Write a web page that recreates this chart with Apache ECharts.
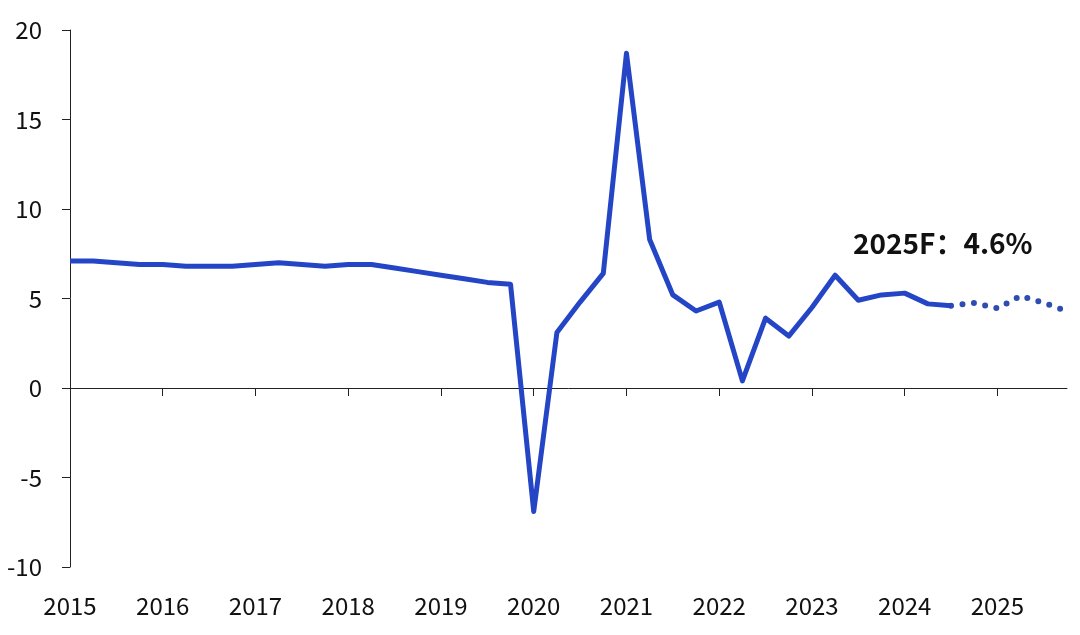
<!DOCTYPE html>
<html><head><meta charset="utf-8">
<script src="https://cdn.jsdelivr.net/npm/echarts@6/dist/echarts.min.js"></script>
<style>html,body{margin:0;padding:0;background:#fff}#c{width:1080px;height:635px}</style>
</head><body><div id="c"></div>
<script>
const years = ['2015','2016','2017','2018','2019','2020','2021','2022','2023','2024','2025'];
const quarters = ['Q1','Q2','Q3','Q4'];
const categories = [];
years.forEach(y => quarters.forEach(q => categories.push(y + q)));
// Actual quarterly values (2015Q1 .. 2024Q3)
const actual = [
  7.1, 7.1, 7.0, 6.9,
  6.9, 6.8, 6.8, 6.8,
  6.9, 7.0, 6.9, 6.8,
  6.9, 6.9, 6.7, 6.5,
  6.3, 6.1, 5.9, 5.8,
  -6.9, 3.1, 4.8, 6.4,
  18.7, 8.3, 5.2, 4.3,
  4.8, 0.4, 3.9, 2.9,
  4.5, 6.3, 4.9, 5.2,
  5.3, 4.7, 4.6
];
// Forecast values (2024Q3 .. 2025Q4)
const forecast = [4.6, 4.75, 4.45, 5.15, 4.75, 4.3];
const yTicks = {min: -10, max: 20, interval: 5};
const annotation = '2025F：4.6%';

const solidData = categories.map((c, i) => i < actual.length ? actual[i] : null);
const fcStart = actual.length - 1;
const dotData = categories.map((c, i) => (i >= fcStart && i - fcStart < forecast.length) ? forecast[i - fcStart] : null);

const font = '"Noto Sans CJK SC", "Noto Sans", sans-serif';
const chart = echarts.init(document.getElementById('c'), null, {renderer: 'canvas'});
chart.setOption({
  animation: false,
  backgroundColor: '#fff',
  grid: {left: 70, right: 13, top: 30, bottom: 68, containLabel: false},
  xAxis: [{
    type: 'category', data: categories, boundaryGap: false,
    axisLine: {onZero: true, lineStyle: {color: '#222', width: 1}},
    axisTick: {show: true, inside: false, length: 8, interval: (i) => i % 4 === 0, lineStyle: {color: '#222'}},
    axisLabel: {show: false}
  }, {
    type: 'category', data: categories, boundaryGap: false, position: 'bottom',
    axisLine: {show: false, onZero: false}, axisTick: {show: false},
    axisLabel: {show: true, interval: (i) => i % 4 === 0, margin: 27, fontSize: 24, color: '#111', fontFamily: font,
      formatter: (v) => v.slice(0, 4)}
  }],
  yAxis: {
    type: 'value', min: yTicks.min, max: yTicks.max, interval: yTicks.interval,
    axisLine: {show: true, lineStyle: {color: '#222', width: 1}},
    axisTick: {show: true, inside: false, length: 8, lineStyle: {color: '#222'}},
    splitLine: {show: false},
    axisLabel: {margin: 28, fontSize: 24, color: '#111', fontFamily: font}
  },
  series: [{
    type: 'line', data: solidData, xAxisIndex: 0, showSymbol: false, symbol: 'none',
    lineStyle: {color: '#2446C6', width: 5, join: 'round'}, z: 3
  }, {
    type: 'line', data: dotData, xAxisIndex: 0, showSymbol: false, symbol: 'none', connectNulls: false,
    lineStyle: {color: '#2F4DB0', width: 6, type: [0, 11.5], cap: 'round'}, z: 2
  }],
  graphic: [{
    type: 'text', left: 853, top: 229,
    style: {text: annotation, font: 'bold 28px ' + font, fill: '#111'}
  }]
});
</script></body></html>
